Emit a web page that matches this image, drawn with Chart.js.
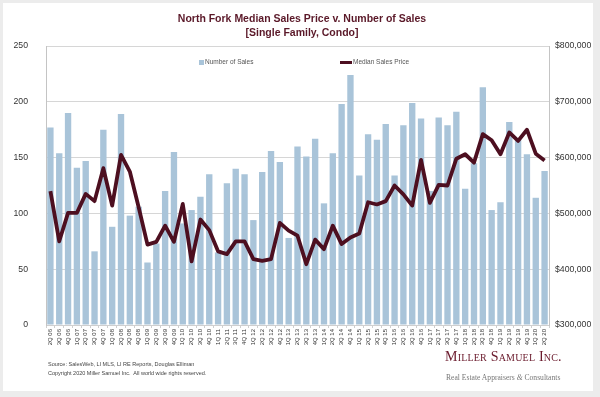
<!DOCTYPE html>
<html>
<head>
<meta charset="utf-8">
<script src="https://cdn.jsdelivr.net/npm/chart.js@4.4.0/dist/chart.umd.min.js"></script>
<style>
  html, body { margin: 0; padding: 0; background: #ececec; }
  #wrap { position: relative; width: 600px; height: 397px; overflow: hidden; background: #ececec; }
  #card { position: absolute; left: 3px; top: 3px; width: 590px; height: 388px; background: #fff; }
  #chart { position: absolute; left: 0; top: 0; }
  .title { position: absolute; left: 0; width: 604px; text-align: center; font: bold 10.5px "Liberation Sans", Arial, sans-serif; color: #5a1828; }
  .legend { position: absolute; top: 58px; font: 6.5px "Liberation Sans", Arial, sans-serif; color: #555; white-space: nowrap; }
  .legend i { display: inline-block; vertical-align: middle; margin-right: 1px; }
  .note { position: absolute; left: 48px; font: 5.5px "Liberation Sans", Arial, sans-serif; color: #444; white-space: nowrap; }
  .logo { position: absolute; left: 445px; top: 349px; font: 14px "Liberation Serif", "DejaVu Serif", serif; font-variant: small-caps; color: #6a1a2c; white-space: nowrap; letter-spacing: 0.2px; }
  .tag { position: absolute; left: 446px; top: 373px; font: 7.6px "Liberation Serif", "DejaVu Serif", serif; color: #777; white-space: nowrap; }
</style>
</head>
<body>
<div id="wrap">
  <div id="card"></div>
  <canvas id="chart" width="600" height="397"></canvas>
  <div class="title" style="top:12px">North Fork Median Sales Price v. Number of Sales</div>
  <div class="title" style="top:26px">[Single Family, Condo]</div>
  <div class="legend" style="left:199px"><i style="width:5px;height:5px;background:#a9c4d9"></i>Number of Sales</div>
  <div class="legend" style="left:340px"><i style="width:12px;height:3px;background:#4d0f20"></i>Median Sales Price</div>
  <div class="note" style="top:361px">Source: SalesWeb, LI MLS, LI RE Reports, Douglas Elliman</div>
  <div class="note" style="top:370px">Copyright 2020 Miller Samuel Inc.&nbsp; All world wide rights reserved.</div>
  <div class="logo">Miller Samuel Inc.</div>
  <div class="tag">Real Estate Appraisers <i>&amp;</i> Consultants</div>
</div>
<script>
// quarters 2Q 06 .. 2Q 20
const quarters = [
  '2Q 06', '3Q 06', '4Q 06',
  '1Q 07', '2Q 07', '3Q 07', '4Q 07',
  '1Q 08', '2Q 08', '3Q 08', '4Q 08',
  '1Q 09', '2Q 09', '3Q 09', '4Q 09',
  '1Q 10', '2Q 10', '3Q 10', '4Q 10',
  '1Q 11', '2Q 11', '3Q 11', '4Q 11',
  '1Q 12', '2Q 12', '3Q 12', '4Q 12',
  '1Q 13', '2Q 13', '3Q 13', '4Q 13',
  '1Q 14', '2Q 14', '3Q 14', '4Q 14',
  '1Q 15', '2Q 15', '3Q 15', '4Q 15',
  '1Q 16', '2Q 16', '3Q 16', '4Q 16',
  '1Q 17', '2Q 17', '3Q 17', '4Q 17',
  '1Q 18', '2Q 18', '3Q 18', '4Q 18',
  '1Q 19', '2Q 19', '3Q 19', '4Q 19',
  '1Q 20', '2Q 20'
];

// number of sales (left axis)
const numberOfSales = [
  177, 154, 190,
  141, 147, 66, 175,
  88, 189, 98, 106,
  56, 73, 120, 155,
  91, 103, 115, 135,
  65, 127, 140, 135,
  94, 137, 156, 146,
  78, 160, 151, 167,
  109, 154, 198, 224,
  134, 171, 166, 180,
  134, 179, 199, 185,
  120, 186, 179, 191,
  122, 145, 213, 103,
  110, 182, 166, 153,
  114, 138
];

// median sales price (right axis)
const medianPrice = [
  540000, 450000, 501000,
  501000, 535000, 522000, 581000,
  514000, 605000, 575000, 511000,
  444000, 449000, 478000, 449000,
  517000, 414000, 489000, 470000,
  432000, 427000, 450000, 450000,
  418000, 415000, 418000, 483000,
  469000, 460000, 409000, 453000,
  436000, 478000, 445000, 457000,
  464000, 520000, 516000, 522000,
  550000, 534000, 514000, 596000,
  519000, 551000, 550000, 598000,
  606000, 591000, 642000, 631000,
  606000, 645000, 630000, 650000,
  607000, 595000
];

const salesTicks = [0, 50, 100, 150, 200, 250];
const priceTicks = [300000, 400000, 500000, 600000, 700000, 800000];

const tickFont = { family: 'Liberation Sans, Arial, sans-serif', size: 8.7 };

new Chart(document.getElementById('chart'), {
  type: 'bar',
  data: {
    labels: quarters,
    datasets: [
      {
        type: 'line',
        label: 'Median Sales Price',
        data: medianPrice,
        yAxisID: 'y1',
        borderColor: '#4d0f20',
        borderWidth: 3.8,
        borderJoinStyle: 'round',
        pointRadius: 0,
        tension: 0,
        order: 0
      },
      {
        label: 'Number of Sales',
        data: numberOfSales,
        yAxisID: 'y',
        backgroundColor: '#a9c4d9',
        barPercentage: 0.72,
        categoryPercentage: 1,
        order: 1
      }
    ]
  },
  options: {
    responsive: false,
    animation: false,
    layout: { padding: { top: 46, bottom: 37, left: 0, right: 0 } },
    plugins: {
      legend: { display: false },
      tooltip: { enabled: false }
    },
    scales: {
      x: {
        offset: true,
        grid: { drawOnChartArea: false, drawTicks: true, tickLength: 3, color: '#cfcfcf' },
        border: { color: '#cfcfcf' },
        ticks: {
          autoSkip: false, minRotation: 90, maxRotation: 90, padding: 1,
          color: '#333', font: { family: 'Liberation Sans, Arial, sans-serif', size: 6 }
        },
        afterFit: (s) => { s.height = 35; }
      },
      y: {
        position: 'left',
        min: 0, max: 250,
        afterBuildTicks: (s) => { s.ticks = salesTicks.map(v => ({ value: v })); },
        grid: { color: '#d6d6d6', drawTicks: false },
        border: { color: '#c4c4c4' },
        ticks: { padding: 18, color: '#333', font: tickFont },
        afterFit: (s) => { s.width = 46; }
      },
      y1: {
        position: 'right',
        min: 300000, max: 800000,
        afterBuildTicks: (s) => { s.ticks = priceTicks.map(v => ({ value: v })); },
        grid: { drawOnChartArea: false, drawTicks: false },
        border: { color: '#c4c4c4' },
        ticks: {
          padding: 6, color: '#333', font: tickFont,
          callback: (v) => '$' + v.toLocaleString('en-US')
        },
        afterFit: (s) => { s.width = 51; }
      }
    }
  }
});
</script>
</body>
</html>
